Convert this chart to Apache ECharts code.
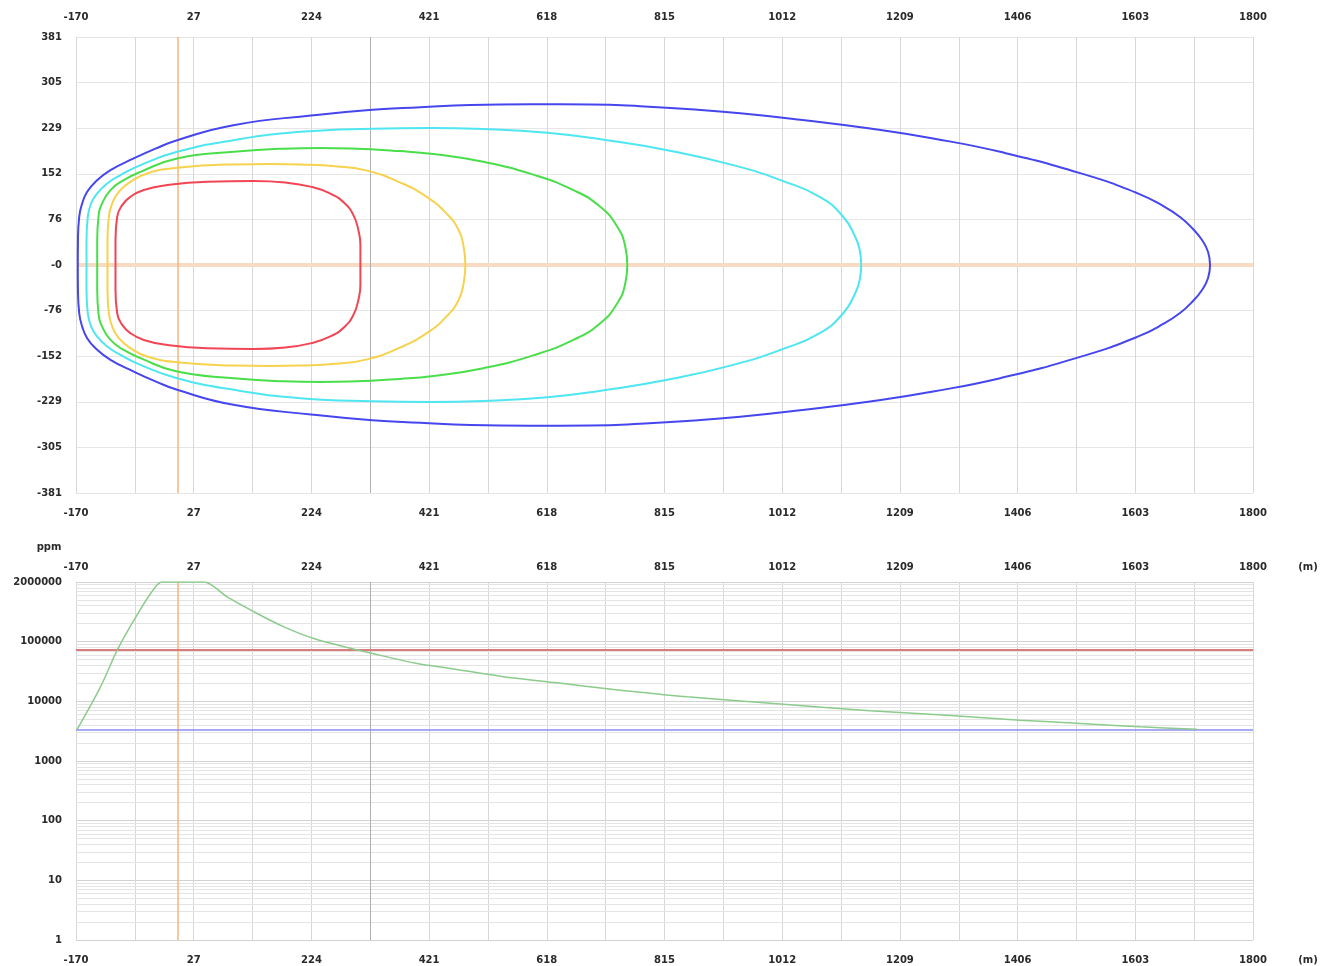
<!DOCTYPE html>
<html>
<head>
<meta charset="utf-8">
<script src="https://cdn.jsdelivr.net/npm/echarts@6/dist/echarts.min.js"></script>
<style>
  html, body { margin: 0; padding: 0; background: #ffffff; }
  #chart { width: 1331px; height: 966px; }
</style>
</head>
<body>
<div id="chart"></div>
<script>
// ---- Tick labels -------------------------------------------------------
const xTickLabels = ['-170', '27', '224', '421', '618', '815', '1012', '1209', '1406', '1603', '1800'];
const yTickLabelsPlan = ['-381', '-305', '-229', '-152', '-76', '-0', '76', '152', '229', '305', '381'];
const yTickLabelsConc = ['1', '10', '100', '1000', '10000', '100000', '2000000'];

// ---- Plan view: upper halves of the iso-concentration contours [x (m), y (m)] ----
// The plume is symmetric about the downwind axis (y = 0).
const contourBlueUpper = [
  [-167, 0], [-166.7, 41.7], [-164.6, 80.6], [-159.6, 103], [-151.3, 122.3], [-137.4, 139],
  [-112.3, 158.5], [-73.3, 178.1], [-37, 194.4], [-0.7, 208.6], [93.5, 233.6], [227.4, 250.3],
  [326.1, 259.5], [406.4, 263.7], [490, 267.4], [590.4, 268.7], [690.8, 268.2], [774.4, 265.4],
  [858.1, 260.4], [941.7, 253.7], [1042.2, 242.8], [1159.3, 228.1], [1264.7, 211.4],
  [1376.8, 189.1], [1510.6, 153.5], [1606, 120.2], [1652.8, 96.8], [1677.9, 80.1],
  [1698, 61.8], [1714.7, 41.7], [1724.8, 21.7], [1728.1, 0]
];
const contourCyanUpper = [
  [-152.4, 0], [-152.4, 41.7], [-150.3, 80.6], [-144.6, 103], [-134.5, 119.7], [-117.8, 136.3],
  [-95.5, 150.2], [-62.1, 166.9], [-0.7, 189.1], [94, 208.6], [205.6, 222.5], [325.6, 227.8],
  [423.1, 229.1], [511.8, 227.3], [618.9, 220.8], [719.2, 208.6], [819.6, 191.9], [930, 166.9],
  [1013.7, 140.2], [1075.6, 113.5], [1114.1, 80.6], [1134.2, 47.2], [1141.7, 25], [1144.2, 0]
];
const contourGreenUpper = [
  [-134.5, 0], [-134.5, 41.7], [-132.4, 80.6], [-126.2, 103], [-112.3, 125.2], [-90, 141.9],
  [-62.1, 155.7], [-0.7, 178.1], [94, 189.1], [177.7, 194.4], [239.1, 195.6], [289.3, 194.8],
  [372.9, 190.3], [428.1, 185.3], [511.8, 172.4], [595.4, 151], [662.4, 125.2], [707.5, 97.3],
  [736, 63.9], [749.4, 30.5], [752.7, 0]
];
const contourYellowUpper = [
  [-117.3, 0], [-117.3, 41.7], [-115.1, 80.6], [-109.4, 103], [-98.4, 122.3], [-78.8, 139],
  [-50.9, 153], [-0.7, 162.4], [94, 168.1], [155.4, 168.9], [205.6, 168.1], [264.2, 165.2],
  [317.2, 157.7], [372.9, 137.7], [417.6, 113.5], [451, 85.1], [470.4, 58.4], [478.8, 30.5],
  [481.7, 0]
];
const contourRedUpper = [
  [-103.9, 0], [-103.9, 41.7], [-101.1, 80.6], [-92.7, 100.1], [-78.8, 114], [-56.6, 125.2],
  [-17.4, 133.5], [49.5, 139], [127.5, 140.2], [180.5, 137.7], [222.3, 131], [255.8, 119.3],
  [279.2, 103.5], [294.3, 83.4], [302.6, 58.4], [306, 33.4], [306, 0]
];

// ---- Centreline concentration profile --------------------------------
const centerlineDistance = [-168, -129, -101, -73, -45, -26, 44, 83, 128, 178, 228, 298, 345, 401,
  457, 540, 635, 730, 853, 1009, 1159, 1288, 1410, 1511, 1611, 1706];
const centerlineConc = [3400, 17500, 72000, 229000, 641000, 1000000, 1000000, 562000, 316000,
  177000, 113000, 74000, 57200, 43100, 35600, 26400, 20400, 15800, 11900, 8980, 6930, 5870,
  4840, 4260, 3740, 3400];

// Threshold levels (ppm) and reference distances (m)
const thresholdHigh = 72000;
const thresholdLow = 3400;
const sourceX = 0;
const markerX = 322.5;

// ---- Axis settings ------------------------------------------------------
const X_MIN = -170, X_MAX = 1800, X_STEP = 98.5;
const Y_MIN = -381, Y_MAX = 381, Y_STEP = 76.2;

const labelStyle = { fontFamily: 'DejaVu Sans', fontSize: 10, fontWeight: 'bold', color: '#2a2a2a' };

// Close a symmetric contour: upper half left->right, then mirrored lower half back.
function closeContour(upper) {
  const lower = upper.slice().reverse().map(p => [p[0], -p[1]]);
  return upper.concat(lower.slice(1));
}

function xAxisFor(gridIndex, position, margin, showGrid) {
  return {
    type: 'value', gridIndex, position,
    min: X_MIN, max: X_MAX, interval: X_STEP,
    axisLine: { show: false }, axisTick: { show: false },
    axisLabel: Object.assign({}, labelStyle, {
      margin,
      formatter: v => {
        const k = Math.round((v - X_MIN) / X_STEP);
        return k % 2 === 0 ? (xTickLabels[k / 2] || '') : '';
      }
    }),
    splitLine: { show: showGrid, lineStyle: { color: '#d8d8d8', width: 1 } }
  };
}

// Minor decade lines (2..9 x 10^k) for the logarithmic concentration axis
const minorLogLines = [];
for (let k = 0; k < 6; k++) {
  for (let m = 2; m <= 9; m++) {
    minorLogLines.push({ yAxis: m * Math.pow(10, k), lineStyle: { color: '#e4e4e4', width: 1, type: 'solid' } });
  }
}

const contourDefs = [
  { name: 'c1', data: contourBlueUpper, color: '#4646ee' },
  { name: 'c2', data: contourCyanUpper, color: '#4ee6f0' },
  { name: 'c3', data: contourGreenUpper, color: '#4ade4a' },
  { name: 'c4', data: contourYellowUpper, color: '#f6d24e' },
  { name: 'c5', data: contourRedUpper, color: '#f24654' }
];

const series = contourDefs.map((c, i) => ({
  type: 'line', name: c.name, xAxisIndex: 0, yAxisIndex: 0,
  data: closeContour(c.data), symbol: 'none', smooth: 0.5,
  lineStyle: { color: c.color, width: 2 }, z: 3,
  markLine: i === 0 ? {
    silent: true, symbol: 'none', z: 1, animation: false, label: { show: false },
    data: [
      { yAxis: 0, lineStyle: { color: '#f9dbc3', width: 4, type: 'solid' } },
      { xAxis: sourceX, lineStyle: { color: '#f6b57e', width: 1.5, type: 'solid' } },
      { xAxis: markerX, lineStyle: { color: '#b0b0b0', width: 1, type: 'solid' } }
    ]
  } : undefined
}));

series.push({
  type: 'line', name: 'centreline', xAxisIndex: 2, yAxisIndex: 1,
  data: centerlineDistance.map((d, i) => [d, centerlineConc[i]]),
  symbol: 'none', smooth: 0.3,
  lineStyle: { color: '#8ccb8c', width: 1.5 }, z: 3,
  markLine: {
    silent: true, symbol: 'none', z: 1, animation: false, label: { show: false },
    data: minorLogLines.concat([
      { xAxis: sourceX, lineStyle: { color: '#f6b57e', width: 1.5, type: 'solid' } },
      { xAxis: markerX, lineStyle: { color: '#b0b0b0', width: 1, type: 'solid' } },
      { yAxis: thresholdHigh, lineStyle: { color: '#d97c7c', width: 2, type: 'solid' } },
      { yAxis: thresholdLow, lineStyle: { color: '#8d8df2', width: 1.5, type: 'solid' } }
    ])
  }
});

const textFont = 'bold 10px "DejaVu Sans"';
const chart = echarts.init(document.getElementById('chart'), null, { renderer: 'canvas' });
chart.setOption({
  animation: false,
  backgroundColor: '#ffffff',
  grid: [
    { left: 76, right: 78, top: 37, height: 456, outerBoundsMode: 'none' },
    { left: 76, right: 78, top: 582, height: 358, outerBoundsMode: 'none' }
  ],
  xAxis: [
    xAxisFor(0, 'top', 15, true),
    xAxisFor(0, 'bottom', 15, false),
    xAxisFor(1, 'top', 10, true),
    xAxisFor(1, 'bottom', 15, false)
  ],
  yAxis: [
    {
      type: 'value', gridIndex: 0, min: Y_MIN, max: Y_MAX, interval: Y_STEP,
      axisLine: { show: false }, axisTick: { show: false },
      axisLabel: Object.assign({}, labelStyle, {
        margin: 14,
        formatter: v => yTickLabelsPlan[Math.round((v - Y_MIN) / Y_STEP)] || ''
      }),
      splitLine: { lineStyle: { color: '#e6e6e6', width: 1 } }
    },
    {
      type: 'log', logBase: 10, gridIndex: 1, min: 1, max: 1000000,
      axisLine: { show: false }, axisTick: { show: false },
      axisLabel: Object.assign({}, labelStyle, {
        margin: 14,
        formatter: v => yTickLabelsConc[Math.round(Math.log10(v))] || ''
      }),
      splitLine: { lineStyle: { color: '#d2d2d2', width: 1 } }
    }
  ],
  graphic: [
    { type: 'text', x: 49, y: 547, style: { text: 'ppm', align: 'center', verticalAlign: 'middle', font: textFont, fill: '#2a2a2a' } },
    { type: 'text', x: 1308, y: 567, style: { text: '(m)', align: 'center', verticalAlign: 'middle', font: textFont, fill: '#2a2a2a' } },
    { type: 'text', x: 1308, y: 960, style: { text: '(m)', align: 'center', verticalAlign: 'middle', font: textFont, fill: '#2a2a2a' } }
  ],
  series
});
</script>
</body>
</html>
